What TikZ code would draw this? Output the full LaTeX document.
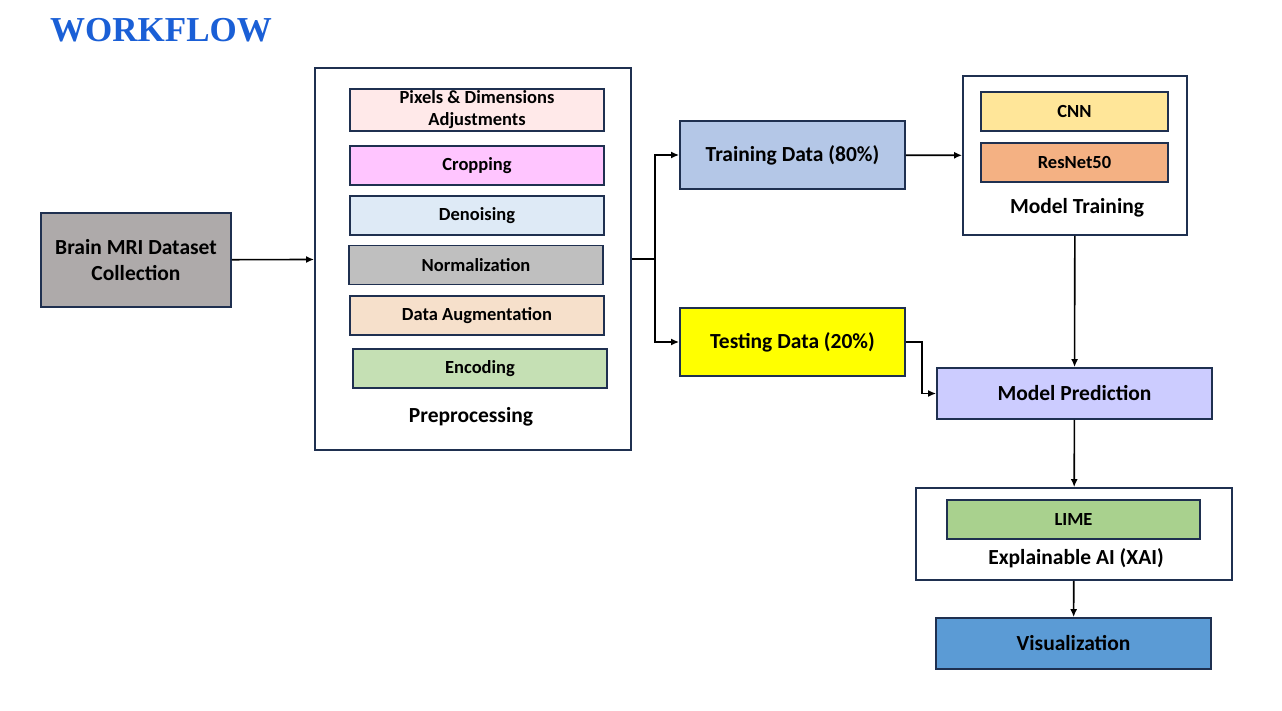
\documentclass[tikz,border=0pt]{standalone}
\usepackage{fontspec}
\setmainfont{Carlito}
\newfontfamily\titlefont{Liberation Serif}
\usepackage{xcolor}
\usepackage{tikz}
\usetikzlibrary{positioning,arrows.meta}
\definecolor{edge}{HTML}{1F3050}
\definecolor{ttl}{HTML}{1A5FD6}
\definecolor{mri}{HTML}{AEAAAA}
\definecolor{pix}{HTML}{FFE9E9}
\definecolor{crop}{HTML}{FFC5FF}
\definecolor{deno}{HTML}{DEEAF6}
\definecolor{norm}{HTML}{BFBFBF}
\definecolor{aug}{HTML}{F6E0CB}
\definecolor{enc}{HTML}{C5E0B4}
\definecolor{trn}{HTML}{B4C7E7}
\definecolor{tst}{HTML}{FFFF00}
\definecolor{cnn}{HTML}{FFE699}
\definecolor{res}{HTML}{F4B183}
\definecolor{pred}{HTML}{CCCCFF}
\definecolor{lime}{HTML}{A9D18E}
\definecolor{viz}{HTML}{5B9BD5}

\begin{document}
\begin{tikzpicture}[x=1pt,y=-1pt,font=\bfseries,
 b/.style={draw=edge,line width=1.8pt,align=center,inner sep=2pt},
 grp/.style={b,fill=white},
 stp/.style={b,minimum width=254pt,minimum height=39pt,font=\fontsize{18.5}{22}\selectfont\bfseries},
 big/.style={b,minimum width=225pt,minimum height=68pt,font=\fontsize{21.5}{26}\selectfont\bfseries},
 wide/.style={b,minimum width=275pt,minimum height=51pt,font=\fontsize{21.5}{26}\selectfont\bfseries},
 sub/.style={b,minimum width=187pt,minimum height=39pt,font=\fontsize{18.5}{22}\selectfont\bfseries},
 lbl/.style={font=\fontsize{21.5}{26}\selectfont\bfseries},
 ar/.style={-{Latex[length=8pt,width=7pt]},line width=1.6pt}]
\useasboundingbox (0,0) rectangle (1282,710);
\node[text=ttl] (title) at (161,30) {\titlefont\fontsize{35}{38}\selectfont WORKFLOW};
% data collection
\node[b,fill=mri,minimum width=190pt,minimum height=94pt,font=\fontsize{21.5}{26}\selectfont\bfseries] (brain) at (136,260) {Brain MRI Dataset\\Collection};
% preprocessing
\node[grp,minimum width=316pt,minimum height=382pt] (pre) at (473,259) {};
\node[stp,fill=pix,minimum height=42pt] (px) at (477,110) {Pixels \& Dimensions\\Adjustments};
\node[stp,fill=crop,below=13pt of px] (crp) {Cropping};
\node[stp,fill=deno,below=9pt of crp] (den) {Denoising};
\node[stp,fill=norm,below=9pt of den,xshift=-1pt] (nrm) {Normalization};
\node[stp,fill=aug,below=10pt of nrm,xshift=1pt] (aug) {Data Augmentation};
\node[stp,fill=enc,below=12pt of aug,xshift=3pt] (enc) {Encoding};
\node[lbl] (prel) at (471,417) {Preprocessing};
% split
\node[big,fill=trn] (train) at (792.5,155) {Training Data (80\%)};
\node[big,fill=tst] (test) at (792.5,342) {Testing Data (20\%)};
% model training
\node[grp,minimum width=224pt,minimum height=159pt] (mt) at (1075,155.5) {};
\node[sub,fill=cnn] (cnn) at (1074.5,111.5) {CNN};
\node[sub,fill=res,below=10pt of cnn] (rsn) {ResNet50};
\node[lbl] (mtl) at (1077,208) {Model Training};
\node[wide,fill=pred] (mp) at (1074.5,393.5) {Model Prediction};
% xai
\node[grp,minimum width=316pt,minimum height=92pt] (xai) at (1074,534) {};
\node[stp,fill=lime,minimum width=253pt] (lime) at (1073.5,519.5) {LIME};
\node[lbl] (xail) at (1076,558) {Explainable AI (XAI)};
\node[wide,fill=viz] (vis) at (1073.5,643.5) {Visualization};
\coordinate (split) at (655,259);
\draw[ar] (brain) -- (pre);
\draw[line width=1.6pt] (pre.east) -- (split);
\draw[ar] (split) |- (train); \draw[ar] (split) |- (test);
\draw[ar] (train) -- (mt);
\draw[ar] (mt) -- (mp);
\draw[ar] (test.east) -- ++(16,0) |- (mp.west);
\draw[ar] (mp) -- (xai);
\draw[ar] (xai) -- (vis);
\end{tikzpicture}
\end{document}
